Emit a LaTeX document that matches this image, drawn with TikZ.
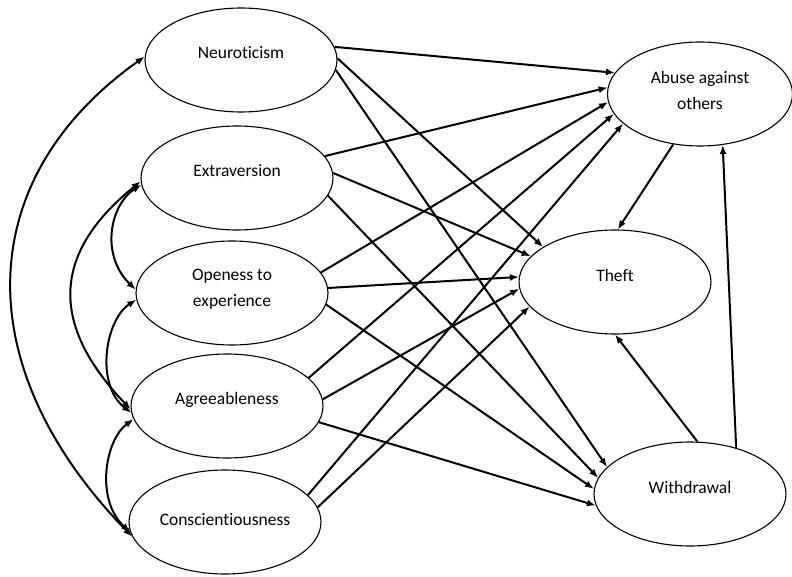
\documentclass[tikz,border=0pt]{standalone}
\usepackage{fontspec}
\setmainfont{Carlito}[Ligatures=NoCommon]
\usetikzlibrary{arrows.meta, shapes.geometric}

\begin{document}
\begin{tikzpicture}[
    x=1pt, y=-1pt,
    >={Latex[length=9pt,width=7pt]},
    every node/.style={font=\fontsize{17.5}{26}\selectfont},
    every label/.style={align=center},
    trait/.style={draw, ellipse, line width=1.1pt, inner sep=0pt,
                  minimum width=192pt, minimum height=104pt},
    effect/.style={->, line width=2pt},
    corr/.style={<->, line width=2pt},
]
\useasboundingbox (0,0) rectangle (792,577);
% personality traits
\node[trait, label={[yshift=7pt]center:Neuroticism}] (neuro) at (241,60) {};
\node[trait, label={[yshift=7pt]center:Extraversion}] (extra) at (237,178) {};
\node[trait, label={[yshift=4pt]center:Openess to\\experience}] (open) at (232,293) {};
\node[trait, label={[yshift=6pt]center:Agreeableness}] (agree) at (227,406) {};
\node[trait, label={[yshift=2pt]center:Conscientiousness}] (consc) at (225,522) {};
% counterproductive behaviours
\node[trait, minimum width=185pt, label={[yshift=4pt]center:Abuse against\\others}] (abuse) at (700,94) {};
\node[trait, label={[yshift=7pt]center:Theft}] (theft) at (615,282) {};
\node[trait, label={[yshift=7pt]center:Withdrawal}] (withdr) at (690,494) {};
% correlations among the traits
\draw[corr] (neuro.178) .. controls (-28,179) and (-33,367) .. (consc.189);
\draw[corr] (extra.182) .. controls (46,258) and (55,330) .. (agree.182);
\draw[corr] (extra.184) .. controls (110,205) and (100,255) .. (open.178);
\draw[corr] (open.184) .. controls (105,320) and (95,385) .. (agree.184);
\draw[corr] (agree.188) .. controls (105,440) and (95,500) .. (consc.186);
% traits -> abuse against others
\draw[effect] (neuro.8) -- (abuse.166);
\draw[effect] (extra.14) -- (abuse.176);
\draw[effect] (open.13) -- (abuse.185);
\draw[effect] (agree.19) -- (abuse.193);
\draw[effect] (consc.18) -- (abuse.201);
% traits -> theft
\draw[effect] (neuro.1) -- (theft.154);
\draw[effect] (extra.3) -- (theft.163);
\draw[effect] (open.3) -- (theft.177);
\draw[effect] (agree.4) -- (theft.184);
\draw[effect] (consc.9) -- (theft.196);
% traits -> withdrawal
\draw[effect] (neuro.-6) -- (withdr.162);
\draw[effect] (extra.-11) -- (withdr.170);
\draw[effect] (open.-7) -- (withdr.177);
\draw[effect] (agree.-10) -- (withdr.187);
% among the outcomes
\draw[effect] (abuse.242) -- (theft.87);
\draw[effect] (withdr.82) -- (theft.270);
\draw[effect] (withdr.45) -- (abuse.294);
\end{tikzpicture}
\end{document}
